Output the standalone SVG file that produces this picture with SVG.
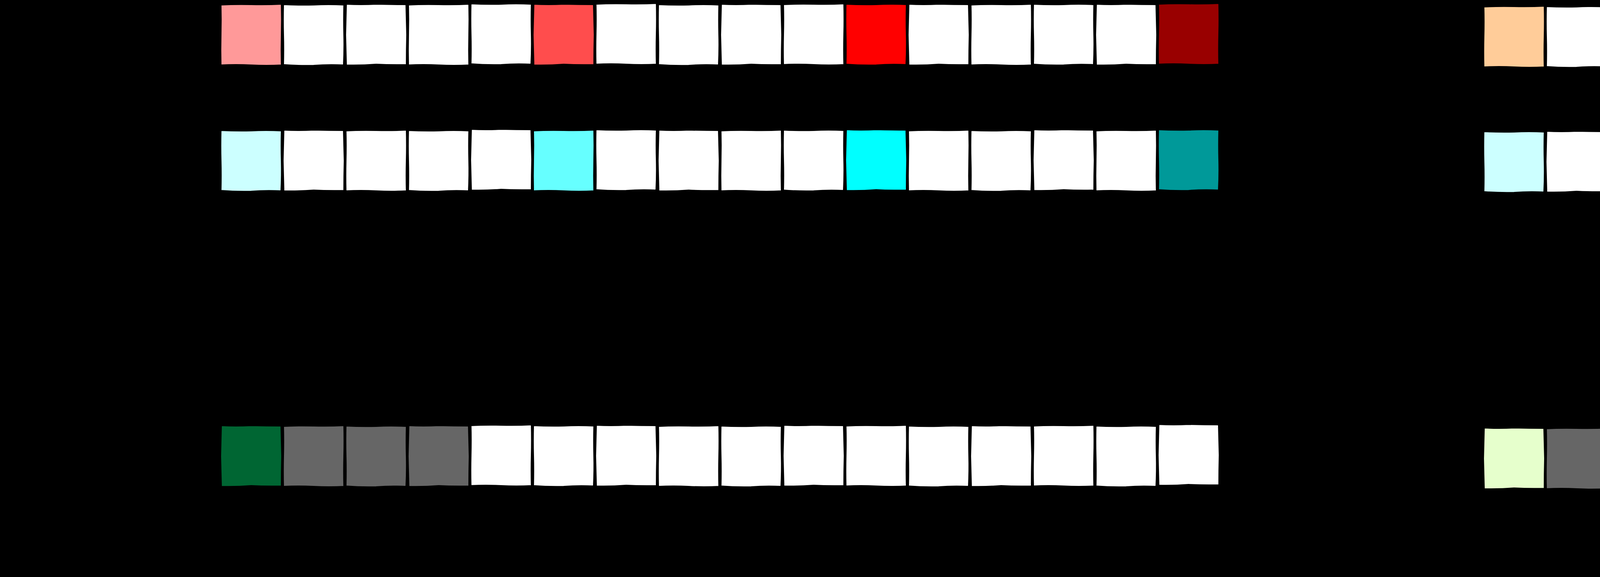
<svg xmlns="http://www.w3.org/2000/svg" width="6364" height="1476" viewBox="0 0 6364 1476">
<style>
.bg{fill:#000}
.w{fill:#ffffff}
.r1{fill:#ff9999}.r2{fill:#ff4d4d}.r3{fill:#ff0000}.r4{fill:#990000}
.c1{fill:#ccffff}.c2{fill:#66ffff}.c3{fill:#00ffff}.c4{fill:#009999}
.o1{fill:#ffcc99}.o2{fill:#ff9933}.o3{fill:#cc6600}.o4{fill:#994c00}
.g{fill:#006633}.gr{fill:#666666}.lg{fill:#e6ffcc}
.mark{fill:none;stroke-width:2}
</style>
<defs>
<path id="v1" stroke="#000" stroke-width="4" stroke-linejoin="round" d="M0 1 Q39 -1 78 0 Q117 1 156 -1 Q157 39 156 78 Q155 117 156 156 Q117 158 78 156 Q39 154 0 156 Q-1 117 0 78 Q1 39 0 1 Z"/>
<path id="v2" stroke="#000" stroke-width="4" stroke-linejoin="round" d="M0 0 Q41 2 78 1 Q115 -1 156 1 Q155 41 156 78 Q157 115 155 156 Q115 154 78 157 Q41 158 0 155 Q1 115 0 78 Q-1 41 0 0 Z"/>
<path id="v3" stroke="#000" stroke-width="4" stroke-linejoin="round" d="M1 -1 Q39 1 78 -1 Q117 0 155 0 Q156 39 157 78 Q156 117 156 155 Q117 156 78 154 Q39 157 1 156 Q0 117 -1 78 Q0 39 1 -1 Z"/>
</defs>
<rect class="bg" x="0" y="0" width="6364" height="1476"/>

<g id="left-row1">
<g id="L1-01"><use href="#v1" x="565" y="11" class="r1"/></g>
<g id="L1-02"><use href="#v2" x="725" y="11" class="w"/></g>
<g id="L1-03"><use href="#v3" x="885" y="11" class="w"/></g>
<g id="L1-04"><use href="#v1" x="1045" y="11" class="w"/></g>
<g id="L1-05"><use href="#v2" x="1205" y="9" class="w"/></g>
<g id="L1-06"><use href="#v3" x="1365" y="11" class="r2"/></g>
<g id="L1-07"><use href="#v1" x="1525" y="9" class="w"/></g>
<g id="L1-08"><use href="#v2" x="1685" y="11" class="w"/></g>
<g id="L1-09"><use href="#v3" x="1845" y="11" class="w"/></g>
<g id="L1-10"><use href="#v1" x="2005" y="10" class="w"/></g>
<g id="L1-11"><use href="#v2" x="2165" y="10" class="r3"/></g>
<g id="L1-12"><use href="#v3" x="2325" y="11" class="w"/></g>
<g id="L1-13"><use href="#v1" x="2485" y="11" class="w"/></g>
<g id="L1-14"><use href="#v2" x="2645" y="10" class="w"/></g>
<g id="L1-15"><use href="#v3" x="2805" y="11" class="w"/></g>
<g id="L1-16"><use href="#v1" x="2965" y="9" class="r4"/></g>
</g>

<g id="left-row2">
<g id="L2-01"><use href="#v2" x="565" y="333" class="c1"/></g>
<g id="L2-02"><use href="#v3" x="725" y="333" class="w"/></g>
<g id="L2-03"><use href="#v1" x="885" y="333" class="w"/></g>
<g id="L2-04"><use href="#v2" x="1045" y="333" class="w"/></g>
<g id="L2-05"><use href="#v3" x="1205" y="331" class="w"/></g>
<g id="L2-06"><use href="#v1" x="1365" y="333" class="c2"/></g>
<g id="L2-07"><use href="#v2" x="1525" y="331" class="w"/></g>
<g id="L2-08"><use href="#v3" x="1685" y="333" class="w"/></g>
<g id="L2-09"><use href="#v1" x="1845" y="333" class="w"/></g>
<g id="L2-10"><use href="#v2" x="2005" y="332" class="w"/></g>
<g id="L2-11"><use href="#v3" x="2165" y="332" class="c3"/></g>
<g id="L2-12"><use href="#v1" x="2325" y="333" class="w"/></g>
<g id="L2-13"><use href="#v2" x="2485" y="333" class="w"/></g>
<g id="L2-14"><use href="#v3" x="2645" y="332" class="w"/></g>
<g id="L2-15"><use href="#v1" x="2805" y="333" class="w"/></g>
<g id="L2-16"><use href="#v2" x="2965" y="331" class="c4"/></g>
</g>

<g id="left-row3">
<g id="L3-01"><use href="#v3" x="565" y="1089" class="g"/></g>
<g id="L3-02"><use href="#v1" x="725" y="1089" class="gr"/></g>
<g id="L3-03"><use href="#v2" x="885" y="1089" class="gr"/></g>
<g id="L3-04"><use href="#v3" x="1045" y="1089" class="gr"/></g>
<g id="L3-05"><use href="#v1" x="1205" y="1087" class="w"/></g>
<g id="L3-06"><use href="#v2" x="1365" y="1088" class="w"/></g>
<g id="L3-07"><use href="#v3" x="1525" y="1088" class="w"/></g>
<g id="L3-08"><use href="#v1" x="1685" y="1089" class="w"/></g>
<g id="L3-09"><use href="#v2" x="1845" y="1089" class="w"/></g>
<g id="L3-10"><use href="#v3" x="2005" y="1088" class="w"/></g>
<g id="L3-11"><use href="#v1" x="2165" y="1088" class="w"/></g>
<g id="L3-12"><use href="#v2" x="2325" y="1089" class="w"/></g>
<g id="L3-13"><use href="#v3" x="2485" y="1089" class="w"/></g>
<g id="L3-14"><use href="#v1" x="2645" y="1088" class="w"/></g>
<g id="L3-15"><use href="#v2" x="2805" y="1089" class="w"/></g>
<g id="L3-16"><use href="#v3" x="2965" y="1086" class="w"/></g>
</g>

<g id="right-row1">
<g id="R1-01"><use href="#v1" x="3798" y="16" class="o1"/></g>
<g id="R1-02"><use href="#v2" x="3958" y="16" class="w"/></g>
<g id="R1-03"><use href="#v3" x="4118" y="15" class="w"/></g>
<g id="R1-04"><use href="#v1" x="4278" y="16" class="w"/></g>
<g id="R1-05"><use href="#v2" x="4438" y="13" class="w"/></g>
<g id="R1-06"><use href="#v3" x="4598" y="16" class="o2"/></g>
<g id="R1-07"><use href="#v1" x="4758" y="13" class="w"/></g>
<g id="R1-08"><use href="#v2" x="4918" y="16" class="w"/></g>
<g id="R1-09"><use href="#v3" x="5078" y="16" class="w"/></g>
<g id="R1-10"><use href="#v1" x="5238" y="14" class="w"/></g>
<g id="R1-11"><use href="#v2" x="5398" y="13" class="o3"/></g>
<g id="R1-12"><use href="#v3" x="5558" y="14" class="w"/></g>
<g id="R1-13"><use href="#v1" x="5718" y="14" class="w"/></g>
<g id="R1-14"><use href="#v2" x="5878" y="14" class="w"/></g>
<g id="R1-15"><use href="#v3" x="6038" y="14" class="w"/></g>
<g id="R1-16"><use href="#v1" x="6198" y="11" class="o4"/></g>
</g>

<g id="right-row2">
<g id="R2-01"><use href="#v2" x="3798" y="336" class="c1"/></g>
<g id="R2-02"><use href="#v3" x="3958" y="336" class="w"/></g>
<g id="R2-03"><use href="#v1" x="4118" y="335" class="w"/></g>
<g id="R2-04"><use href="#v2" x="4278" y="336" class="w"/></g>
<g id="R2-05"><use href="#v3" x="4438" y="333" class="w"/></g>
<g id="R2-06"><use href="#v1" x="4598" y="336" class="c2"/></g>
<g id="R2-07"><use href="#v2" x="4758" y="333" class="w"/></g>
<g id="R2-08"><use href="#v3" x="4918" y="336" class="w"/></g>
<g id="R2-09"><use href="#v1" x="5078" y="336" class="w"/></g>
<g id="R2-10"><use href="#v2" x="5238" y="334" class="w"/></g>
<g id="R2-11"><use href="#v3" x="5398" y="333" class="c3"/></g>
<g id="R2-12"><use href="#v1" x="5558" y="334" class="w"/></g>
<g id="R2-13"><use href="#v2" x="5718" y="334" class="w"/></g>
<g id="R2-14"><use href="#v3" x="5878" y="334" class="w"/></g>
<g id="R2-15"><use href="#v1" x="6038" y="334" class="w"/></g>
<g id="R2-16"><use href="#v2" x="6198" y="332" class="c4"/></g>
</g>

<g id="right-row3">
<g id="R3-01"><use href="#v3" x="3798" y="1095" class="lg"/></g>
<g id="R3-02"><use href="#v1" x="3958" y="1095" class="gr"/></g>
<g id="R3-03"><use href="#v2" x="4118" y="1095" class="gr"/></g>
<g id="R3-04"><use href="#v3" x="4278" y="1095" class="gr"/></g>
<g id="R3-05"><use href="#v1" x="4438" y="1093" class="w"/></g>
<g id="R3-06"><use href="#v2" x="4598" y="1094" class="w"/></g>
<g id="R3-07"><use href="#v3" x="4758" y="1094" class="w"/></g>
<g id="R3-08"><use href="#v1" x="4918" y="1094" class="w"/></g>
<g id="R3-09"><use href="#v2" x="5078" y="1094" class="w"/></g>
<g id="R3-10"><use href="#v3" x="5238" y="1093" class="w"/></g>
<g id="R3-11"><use href="#v1" x="5398" y="1093" class="w"/></g>
<g id="R3-12"><use href="#v2" x="5558" y="1093" class="w"/></g>
<g id="R3-13"><use href="#v3" x="5718" y="1093" class="w"/></g>
<g id="R3-14"><use href="#v1" x="5878" y="1093" class="w"/></g>
<g id="R3-15"><use href="#v2" x="6038" y="1093" class="w"/></g>
<g id="R3-16"><use href="#v3" x="6198" y="1090" class="w"/></g>
</g>

<g id="connectors">
<line class="mark" x1="6249" y1="495" x2="6344" y2="495" stroke="#9a9a9a"/>
<line class="mark" x1="6200" y1="1253" x2="6267" y2="1253" stroke="#3a3a3a"/>
</g>
</svg>
